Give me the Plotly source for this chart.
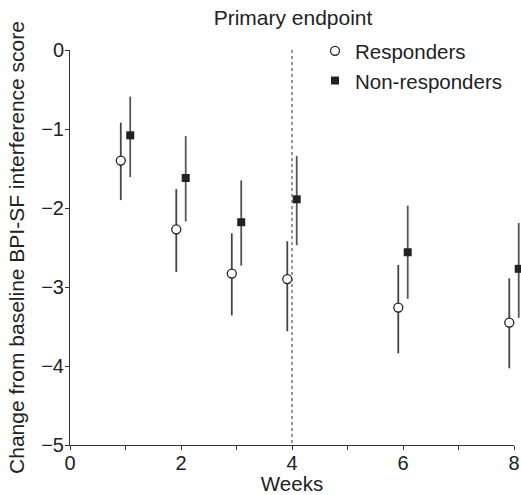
import plotly.graph_objects as go

# ---- data ----
weeks = [1, 2, 3, 4, 6, 8]
offset = 0.085
resp_mean = [-1.40, -2.27, -2.83, -2.90, -3.26, -3.45]
resp_upper = [-0.92, -1.76, -2.32, -2.42, -2.72, -2.89]
resp_lower = [-1.90, -2.81, -3.36, -3.56, -3.84, -4.03]
nonresp_mean = [-1.08, -1.62, -2.18, -1.89, -2.56, -2.77]
nonresp_upper = [-0.59, -1.09, -1.65, -1.34, -1.97, -2.19]
nonresp_lower = [-1.61, -2.17, -2.73, -2.47, -3.15, -3.39]
x_tick_vals = [0, 1, 2, 3, 4, 5, 6, 7, 8]
x_tick_text = ["0", "", "2", "", "4", "", "6", "", "8"]
y_tick_vals = [0, -1, -2, -3, -4, -5]
primary_endpoint_week = 4

FONT = "Liberation Sans, Arial, Helvetica, sans-serif"
TXT = "#222222"

W, H = 521, 495
ML, MR = 70, 0
axis_px = 444                     # visible x axis length in px (0..8)
plot_px = W - ML - MR             # full plotting width (room for last marker)
x_max_visible = 8
x_max_data = x_max_visible * plot_px / axis_px

resp_x = [w - offset for w in weeks]
nonresp_x = [w + offset for w in weeks]

fig = go.Figure()
fig.add_trace(go.Scatter(
    x=resp_x, y=resp_mean, mode="markers", name="Responders",
    xaxis="x2", yaxis="y",
    marker=dict(symbol="circle", size=9, color="white",
                line=dict(color="#222222", width=1.3)),
    error_y=dict(type="data", symmetric=False,
                 array=[u - m for u, m in zip(resp_upper, resp_mean)],
                 arrayminus=[m - l for m, l in zip(resp_mean, resp_lower)],
                 color="#444444", thickness=1.8, width=0),
    cliponaxis=False,
))
fig.add_trace(go.Scatter(
    x=nonresp_x, y=nonresp_mean, mode="markers", name="Non-responders",
    xaxis="x2", yaxis="y",
    marker=dict(symbol="square", size=8, color="#222222",
                line=dict(color="#222222", width=0)),
    error_y=dict(type="data", symmetric=False,
                 array=[u - m for u, m in zip(nonresp_upper, nonresp_mean)],
                 arrayminus=[m - l for m, l in zip(nonresp_mean, nonresp_lower)],
                 color="#555555", thickness=1.8, width=0),
    cliponaxis=False,
))

fig.add_shape(type="line", x0=primary_endpoint_week, x1=primary_endpoint_week,
              y0=0, y1=-5, xref="x", yref="y",
              line=dict(color="#444444", width=1.1, dash="3px,3px"))

fig.update_layout(
    width=W, height=H,
    margin=dict(l=ML, r=MR, t=50, b=50),
    paper_bgcolor="white", plot_bgcolor="white",
    font=dict(family=FONT, size=20, color=TXT),
    title=dict(text="Primary endpoint", x=(293 - ML) / plot_px, xref="paper",
               xanchor="center", y=1 - 18 / H, yref="container", yanchor="middle",
               font=dict(family=FONT, size=21, color=TXT)),
    showlegend=True,
    legend=dict(x=(315 - ML) / plot_px, y=1.048, xanchor="left", yanchor="top",
                bgcolor="rgba(0,0,0,0)", font=dict(size=20.5, color=TXT),
                itemwidth=30, tracegroupgap=0),
    xaxis=dict(domain=[0, axis_px / plot_px], range=[0, x_max_visible],
               tickvals=x_tick_vals, ticktext=x_tick_text,
               showgrid=False, zeroline=False, showline=True, automargin=False,
               linecolor="#333333", linewidth=1, ticks="outside", ticklen=4,
               tickcolor="#333333", tickfont=dict(size=20, color=TXT),
               ticklabelstandoff=-4,
               title=dict(text="Weeks", standoff=3, font=dict(size=20.5, color=TXT))),
    xaxis2=dict(domain=[0, 1], range=[0, x_max_data], anchor="y",
                visible=False, showgrid=False, zeroline=False),
    yaxis=dict(range=[-5, 0], tickvals=y_tick_vals,
               showgrid=False, zeroline=False, showline=True, automargin=False,
               linecolor="#333333", linewidth=1, ticks="outside", ticklen=4,
               tickcolor="#333333", tickfont=dict(size=20, color=TXT),
               ticklabelstandoff=-3,
               title=dict(text="Change from baseline BPI-SF interference score",
                          standoff=10, font=dict(size=21, color=TXT))),
)

fig.write_html("out.html",
               config={"displayModeBar": False},
               post_script="document.body.style.margin='0px';")
